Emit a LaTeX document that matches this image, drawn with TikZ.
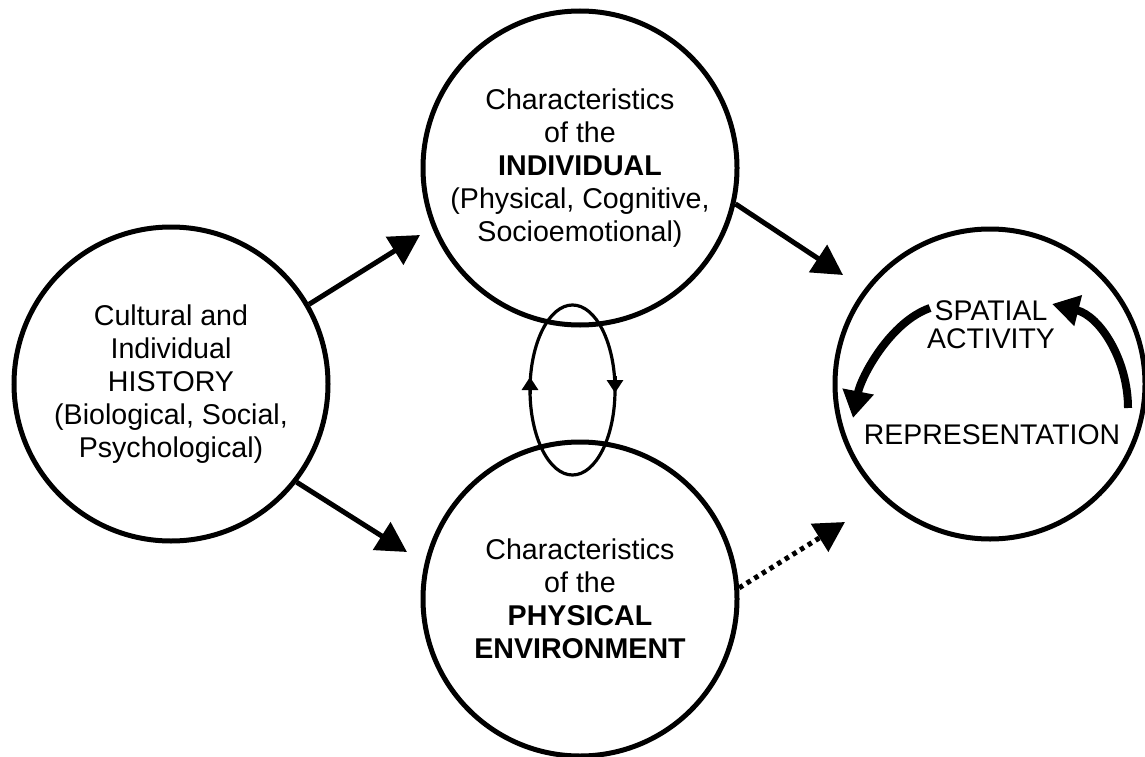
\documentclass[tikz,border=0pt]{standalone}
\usepackage{fontspec}
\setmainfont{Liberation Sans}
\usetikzlibrary{arrows.meta,shapes.geometric}
\begin{document}
\begin{tikzpicture}[x=1pt,y=-1pt,
  circ/.style={circle, draw, line width=5pt, minimum size=314pt, inner sep=0pt, align=center, font=\fontsize{28.6}{33}\selectfont},
  conn/.style={line width=5pt, -{Triangle[length=30pt,width=32pt]}},
  dotconn/.style={conn, dash pattern=on 4.5pt off 4.5pt},
  lbl/.style={font=\fontsize{28.4}{28}\selectfont, inner sep=0pt, align=center},
  loopshape/.style={ellipse, draw, line width=3.2pt, minimum width=85pt, minimum height=170pt, inner sep=0pt},
  looptip/.style={line width=3pt, -{Triangle[length=13pt,width=16pt]}},
  cyc/.style={line width=8pt, -{Triangle[length=27pt,width=30pt]}}
]
\useasboundingbox (0,0) rectangle (1145,757);
% loop between the two middle circles
\node[loopshape] (E) at (572.5,390) {};
% circles
\node[circ] (L) at (171,384) {Cultural and\\Individual\\HISTORY\\(Biological, Social,\\Psychological)};
\node[circ] (T) at (580,168) {Characteristics\\of the\\\textbf{INDIVIDUAL}\\(Physical, Cognitive,\\Socioemotional)};
\node[circ] (B) at (580,599) {Characteristics\\of the\\\textbf{PHYSICAL}\\\textbf{ENVIRONMENT}};
\node[circ, minimum size=310pt] (R) at (990,384) {};
\node[lbl] (SA) at (991,325) {SPATIAL\\ACTIVITY};
\node[lbl] (REP) at (992,435) {REPRESENTATION};
% arrow ends
\coordinate (t1) at (420,235);
\coordinate (t2) at (407,552);
\coordinate (t3) at (843,275);
\coordinate (t4) at (845,522);
\draw[conn] (L.30) -- (t1);
\draw[conn] (L.-38) -- (t2);
\draw[conn] (T.-13) -- (t3);
\draw[dotconn] (B.4) -- (t4);
% loop arrowheads
\coordinate (e1) at (530,394);
\coordinate (e2) at (530,377);
\coordinate (e3) at (615,376);
\coordinate (e4) at (615,393);
\draw[looptip] (e1) -- (e2);
\draw[looptip] (e3) -- (e4);
% cycle inside right circle
\coordinate (a1) at (930,308);
\coordinate (a2) at (853,418);
\coordinate (b1) at (1128,408);
\coordinate (b2) at (1052,304);
\draw[cyc] (a1) .. controls (890,322) and (861,377) .. (a2);
\draw[cyc] (b1) .. controls (1128,360) and (1100,316) .. (b2);
\end{tikzpicture}
\end{document}
